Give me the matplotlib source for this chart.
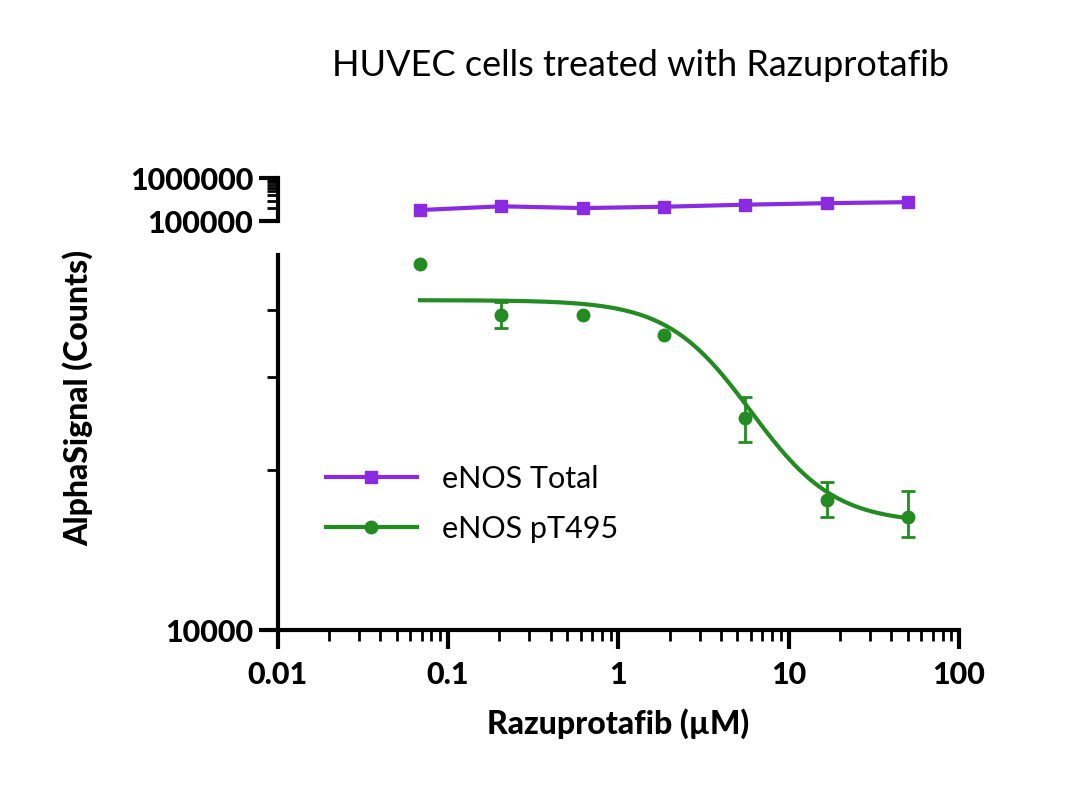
import matplotlib
matplotlib.use('Agg')
import matplotlib.pyplot as plt
import numpy as np

plt.rcParams['font.family'] = 'Lato'

conc = [0.0686, 0.206, 0.617, 1.85, 5.56, 16.7, 50.0]
total = [180000, 220000, 200000, 215000, 240000, 260000, 275000]
pt495 = [49000, 39200, 39200, 35900, 25100, 17600, 16300]
pt495_lo = [None, 37000, None, None, 22600, 16300, 15000]
pt495_hi = [None, 41500, None, None, 27500, 19000, 18300]
# 4PL fit parameters
fit_top, fit_bottom, fit_ic50, fit_hill = 41800, 15900, 4.6, 1.8

purple = '#8a2be2'
green = '#228b22'

fig = plt.figure(figsize=(10.8, 7.95), dpi=100)
ax = fig.add_axes([0.257, 0.2075, 0.631, 0.4715])
ax_top = fig.add_axes([0.257, 0.722, 0.631, 0.054])

for a in (ax, ax_top):
    a.set_xscale('log')
    a.set_yscale('log')
    a.set_xlim(0.01, 100)
    for s in ['top', 'right']:
        a.spines[s].set_visible(False)
    a.spines['left'].set_linewidth(3)
    a.tick_params(which='major', width=3, length=14, labelsize=22)
    a.tick_params(which='minor', width=2, length=8)

ax.set_ylim(10000, 50800)
ax.spines['bottom'].set_linewidth(3)
ax.set_yticks([10000])
ax.set_yticks([20000, 30000, 40000], minor=True)
ax.yaxis.set_minor_formatter(plt.NullFormatter())
ax.set_yticklabels(['10000'], fontweight='heavy')
ax.set_xticks([0.01, 0.1, 1, 10, 100])
ax.set_xticklabels(['0.01', '0.1', '1', '10', '100'], fontweight='heavy')
ax.tick_params(axis='x', which='major', pad=8)

ax_top.set_ylim(100000, 1000000)
ax_top.spines['bottom'].set_visible(False)
ax_top.set_xticks([])
ax_top.set_xticks([], minor=True)
ax_top.set_yticks([100000, 1000000])
ax_top.set_yticklabels(['100000', '1000000'], fontweight='heavy')
ax_top.yaxis.set_minor_formatter(plt.NullFormatter())
ax_top.patch.set_alpha(0)

# total
ax_top.plot(conc, total, color=purple, lw=3, marker='s', ms=9, clip_on=False)
ax.plot([], [], color=purple, lw=3, marker='s', ms=9, label='eNOS Total')

# phospho
xs = np.logspace(np.log10(0.0686), np.log10(50), 200)
ys = fit_bottom + (fit_top - fit_bottom) / (1 + (xs / fit_ic50) ** fit_hill)
ax.plot(xs, ys, color=green, lw=3)
ax.plot(conc, pt495, 'o', color=green, ms=9, clip_on=False)
for x, lo, hi in zip(conc, pt495_lo, pt495_hi):
    if lo is not None:
        ax.vlines(x, lo, hi, color=green, lw=2)
        ax.hlines([lo, hi], x / 1.1, x * 1.1, color=green, lw=2)
ax.plot([], [], color=green, lw=3, marker='o', ms=9, label='eNOS pT495')

ax.legend(loc='lower left', bbox_to_anchor=(0.03, 0.16), frameon=False,
          fontsize=22, handlelength=3, labelspacing=0.7)

ax.set_xlabel('Razuprotafib (µM)', fontsize=23, fontweight='heavy', labelpad=14)
fig.text(0.072, 0.5, 'AlphaSignal (Counts)', rotation=90, fontsize=23,
         fontweight='heavy', ha='center', va='center')
fig.text(0.593, 0.918, 'HUVEC cells treated with Razuprotafib', fontsize=26,
         ha='center', va='center')

fig.savefig('out.png', dpi=100)
